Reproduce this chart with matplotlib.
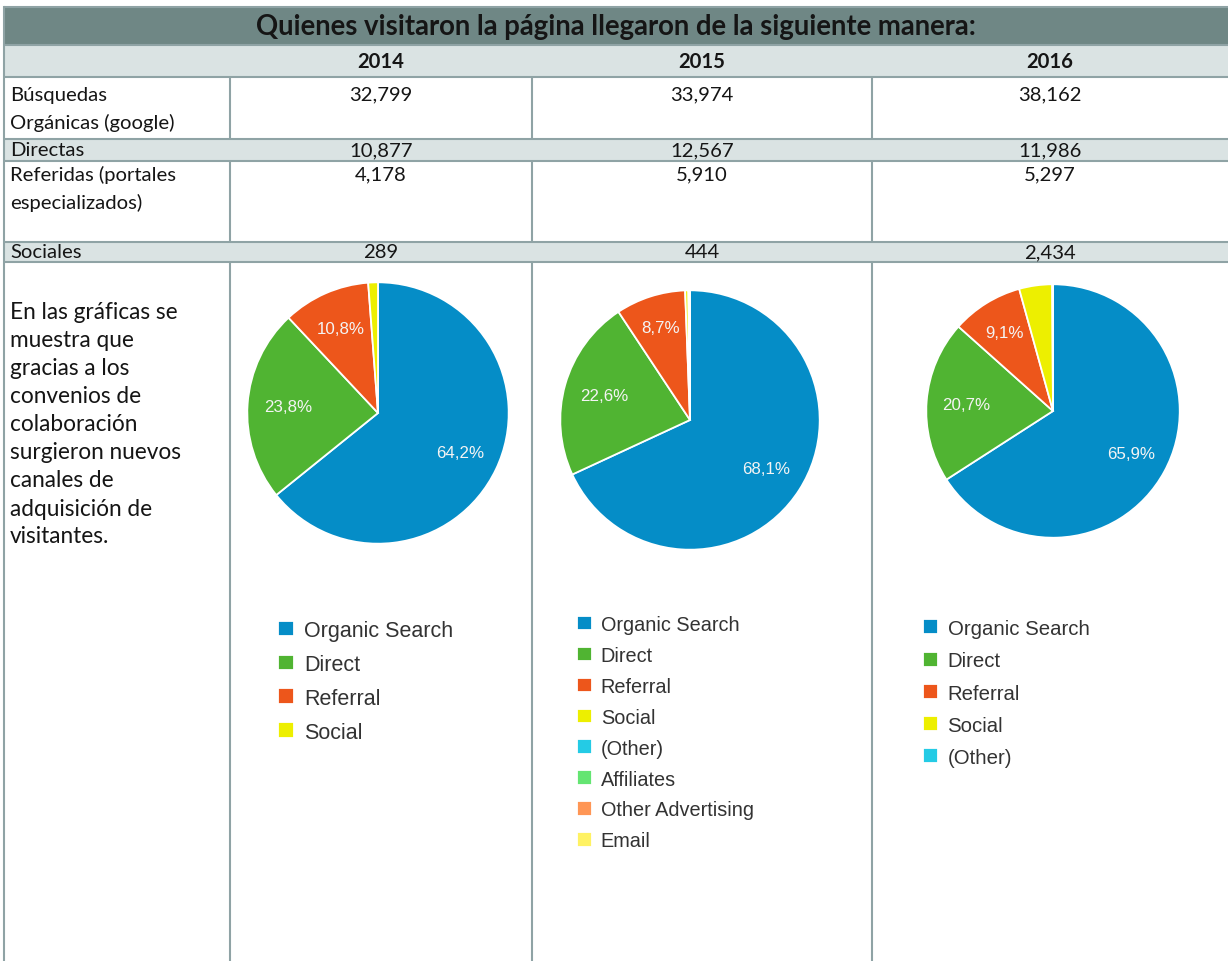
import numpy as np
import matplotlib
matplotlib.use("Agg")
import matplotlib.pyplot as plt
from matplotlib.patches import Rectangle

W, H = 1228, 962

# table data
title = "Quienes visitaron la página llegaron de la siguiente manera:"
years = ["2014", "2015", "2016"]
row_labels = ["Búsquedas\nOrgánicas (google)", "Directas",
              "Referidas (portales\nespecializados)", "Sociales"]
organicas = [32799, 33974, 38162]
directas = [10877, 12567, 11986]
referidas = [4178, 5910, 5297]
sociales = [289, 444, 2434]
note = ("En las gráficas se\nmuestra que\ngracias a los\nconvenios de\ncolaboración\n"
        "surgieron nuevos\ncanales de\nadquisición de\nvisitantes.")

# pie data (percent of sessions per channel)
channels_2014 = ["Organic Search", "Direct", "Referral", "Social"]
share_2014 = [64.2, 23.8, 10.8, 1.2]
channels_2015 = ["Organic Search", "Direct", "Referral", "Social", "(Other)",
                 "Affiliates", "Other Advertising", "Email"]
share_2015 = [68.1, 22.6, 8.7, 0.4, 0.1, 0.05, 0.03, 0.02]
channels_2016 = ["Organic Search", "Direct", "Referral", "Social", "(Other)"]
share_2016 = [65.9, 20.7, 9.1, 4.2, 0.1]

palette = {"Organic Search": "#058dc7", "Direct": "#50b432", "Referral": "#ed561b",
           "Social": "#edef00", "(Other)": "#24cbe5", "Affiliates": "#64e572",
           "Other Advertising": "#ff9655", "Email": "#fff263"}

header_bg = "#6f8785"
band_bg = "#dae3e3"
border = "#8fa3a5"
table_font = "Lato"
body_fs = 14.6

fig = plt.figure(figsize=(W / 100, H / 100), dpi=100)
ax = fig.add_axes([0, 0, 1, 1])
ax.set_xlim(0, W)
ax.set_ylim(H, 0)
ax.axis("off")

col_x = [4, 230, 532, 872, 1228]
row_y = [8, 46, 78, 140, 162, 243, 263]
col_mid = [(col_x[i + 1] + col_x[i + 2]) / 2 for i in range(3)]

# backgrounds
ax.add_patch(Rectangle((col_x[0], row_y[0]), W - col_x[0], row_y[1] - row_y[0], color=header_bg, lw=0))
for top, bot in [(row_y[1], row_y[2]), (row_y[3], row_y[4]), (row_y[5], row_y[6])]:
    ax.add_patch(Rectangle((col_x[0], top), W - col_x[0], bot - top, color=band_bg, lw=0))

# grid lines
lw = 1.5
for y in row_y:
    ax.plot([col_x[0], W], [y, y], color=border, lw=lw, solid_capstyle="butt")
ax.plot([col_x[0], col_x[0]], [row_y[0], H], color=border, lw=lw)
for x in col_x[1:4]:
    for top, bot in [(row_y[2], row_y[3]), (row_y[4], row_y[5]), (row_y[6], H)]:
        ax.plot([x, x], [top, bot], color=border, lw=lw, solid_capstyle="butt")

# header texts
ax.text((col_x[0] + W) / 2, 27.5, title, ha="center", va="center", fontsize=19.8,
        fontweight="bold", family=table_font, color="#151515")
for x, yr in zip(col_mid, years):
    ax.text(x, 62, yr, ha="center", va="center", fontsize=body_fs, fontweight="bold",
            family=table_font, color="#151515")

# rows
line_step = 27.5
first_line = [95, 151, 175, 253]
values = [organicas, directas, referidas, sociales]
for lbl, y0, vals in zip(row_labels, first_line, values):
    for k, part in enumerate(lbl.split("\n")):
        ax.text(10, y0 + k * line_step, part, ha="left", va="center", fontsize=body_fs,
                family=table_font, color="#151515")
    for x, v in zip(col_mid, vals):
        ax.text(x, y0, f"{v:,}", ha="center", va="center", fontsize=body_fs,
                family=table_font, color="#151515")

for k, part in enumerate(note.split("\n")):
    ax.text(10, 313 + k * 28.0, part, ha="left", va="center", fontsize=16.3,
            family=table_font, color="#151515")


def draw_pie(cx, cy, r, shares, names, dists, leg_x, leg_y, leg_fs, leg_sp):
    pax = fig.add_axes([(cx - r) / W, 1 - (cy + r) / H, 2 * r / W, 2 * r / H])
    wedges, _ = pax.pie(shares, colors=[palette[n] for n in names], startangle=90,
                        counterclock=False,
                        wedgeprops=dict(edgecolor="white", linewidth=1.3))
    pax.set_xlim(-1.01, 1.01)
    pax.set_ylim(-1.01, 1.01)
    for w, s, d in zip(wedges, shares, dists):
        if s < 5:
            continue
        ang = np.deg2rad((w.theta1 + w.theta2) / 2)
        pax.text(d * np.cos(ang), d * np.sin(ang), f"{s:.1f}%".replace(".", ","),
                 ha="center", va="center", fontsize=12.2, color="#f4f4f4",
                 family="Liberation Sans")
    fig.legend(wedges, names, loc="upper left",
               bbox_to_anchor=(leg_x / W, 1 - leg_y / H), frameon=False,
               handlelength=0.75, handleheight=0.75,
               handletextpad=0.45, labelspacing=leg_sp, borderpad=0,
               borderaxespad=0, labelcolor="#333333",
               prop={"family": "Liberation Sans", "size": leg_fs})


draw_pie(378, 414, 132, share_2014, channels_2014, [0.70, 0.69, 0.71], 278, 621, 15.5, 0.60)
draw_pie(690, 421, 131, share_2015, channels_2015, [0.70, 0.69, 0.75], 577, 616, 14.3, 0.60)
draw_pie(1053, 412, 128, share_2016, channels_2016, [0.70, 0.69, 0.73], 923, 620, 14.7, 0.65)

fig.savefig("out.png", dpi=100)
